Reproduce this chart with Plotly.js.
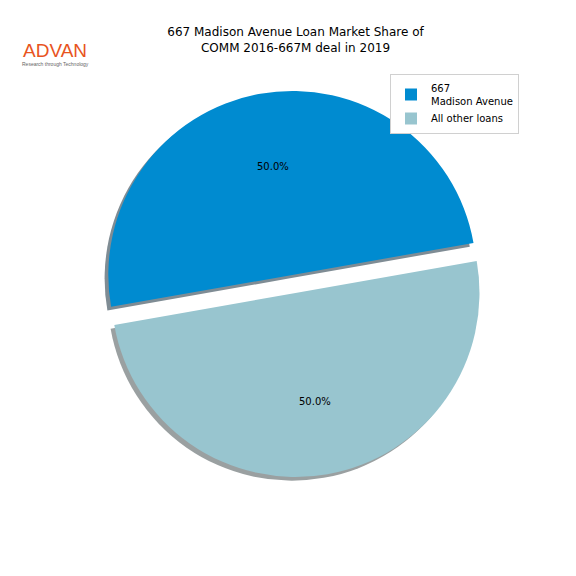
<!DOCTYPE html>
<html>
<head>
<meta charset="utf-8">
<script src="https://cdn.plot.ly/plotly-3.0.1.min.js"></script>
<style>html,body{margin:0;padding:0;background:#fff;}#chart{width:576px;height:576px;}</style>
</head>
<body>
<div id="chart"></div>
<script>
const labels = ['667<br>Madison Avenue', 'All other loans'];
const values = [1, 1];
const sliceColors = ['#008BD0', '#98C5CF'];
const shadowColors = ['#7f8c94', '#9aa0a1'];
const pulls = [0.1, 0];
const titleText = '667 Madison Avenue Loan Market Share of<br>COMM 2016-667M deal in 2019';

const W = 576, H = 576;
const cx = 295.5, cy = 293, r = 184;
const maxPull = Math.max(...pulls);
const half = r * (1 + maxPull);
const dom = {x: [(cx - half) / W, (cx + half) / W], y: [(H - (cy + half)) / H, (H - (cy - half)) / H]};
const sh = 3.7;
const shadowDom = {x: [dom.x[0] - sh / W, dom.x[1] - sh / W], y: [dom.y[0] - sh / H, dom.y[1] - sh / H]};

// matplotlib-style: startangle 10deg, counterclockwise
const startAngle = 10;
const total = values.reduce((a, b) => a + b, 0);
const endFirst = startAngle + values[0] / total * 360;
const rotation = 90 - endFirst; // plotly: degrees clockwise from 12 o'clock

const shadow = {
  type: 'pie', labels: labels, values: values, sort: false, direction: 'clockwise',
  rotation: rotation, pull: pulls, domain: shadowDom, textinfo: 'none', hoverinfo: 'skip',
  showlegend: false, marker: {colors: shadowColors, line: {width: 0}}
};
const main = {
  type: 'pie', labels: labels, values: values, sort: false, direction: 'clockwise',
  rotation: rotation, pull: pulls, domain: dom, textinfo: 'none',
  marker: {colors: sliceColors, line: {width: 0}}
};

// percentage labels at 0.6 radius (matplotlib-style pctdistance)
const annotations = [];
let start = startAngle;
values.forEach((v, i) => {
  const span = v / total * 360;
  const mid = (start + span / 2) * Math.PI / 180;
  const ox = cx + Math.cos(mid) * r * pulls[i];
  const oy = cy - Math.sin(mid) * r * pulls[i];
  const tx = ox + Math.cos(mid) * r * 0.6;
  const ty = oy - Math.sin(mid) * r * 0.6;
  annotations.push({
    x: tx / W, y: 1 - ty / H, xref: 'paper', yref: 'paper', showarrow: false,
    text: (v / total * 100).toFixed(1) + '%', font: {family: 'DejaVu Sans', size: 10, color: '#000'},
    xanchor: 'center', yanchor: 'middle'
  });
  start += span;
});
annotations.push({
  x: 21 / W, y: 1 - 51 / H, xref: 'paper', yref: 'paper', showarrow: false, xanchor: 'left', yanchor: 'middle',
  text: 'ADVAN', font: {family: 'Liberation Sans', size: 19, color: '#E8541E'}
});
annotations.push({
  x: 20 / W, y: 1 - 64 / H, xref: 'paper', yref: 'paper', showarrow: false, xanchor: 'left', yanchor: 'middle',
  text: 'Research through Technology', font: {family: 'Liberation Sans', size: 5, color: '#666'}
});

const layout = {
  width: W, height: H, margin: {l: 0, r: 0, t: 0, b: 0},
  paper_bgcolor: '#fff', plot_bgcolor: '#fff',
  title: {text: titleText, x: 295.5 / W, xanchor: 'center', y: 1 - 36 / H, yanchor: 'top',
          font: {family: 'DejaVu Sans', size: 12, color: '#000'}},
  showlegend: true,
  legend: {x: 390 / W, y: 1 - 74 / H, xanchor: 'left', yanchor: 'top', bgcolor: '#fff',
           bordercolor: '#d0d0d0', borderwidth: 1, font: {family: 'DejaVu Sans', size: 10, color: '#000'},
           tracegroupgap: 0, itemwidth: 30},
  annotations: annotations
};

Plotly.newPlot('chart', [shadow, main], layout, {displayModeBar: false, staticPlot: true});
</script>
</body>
</html>
